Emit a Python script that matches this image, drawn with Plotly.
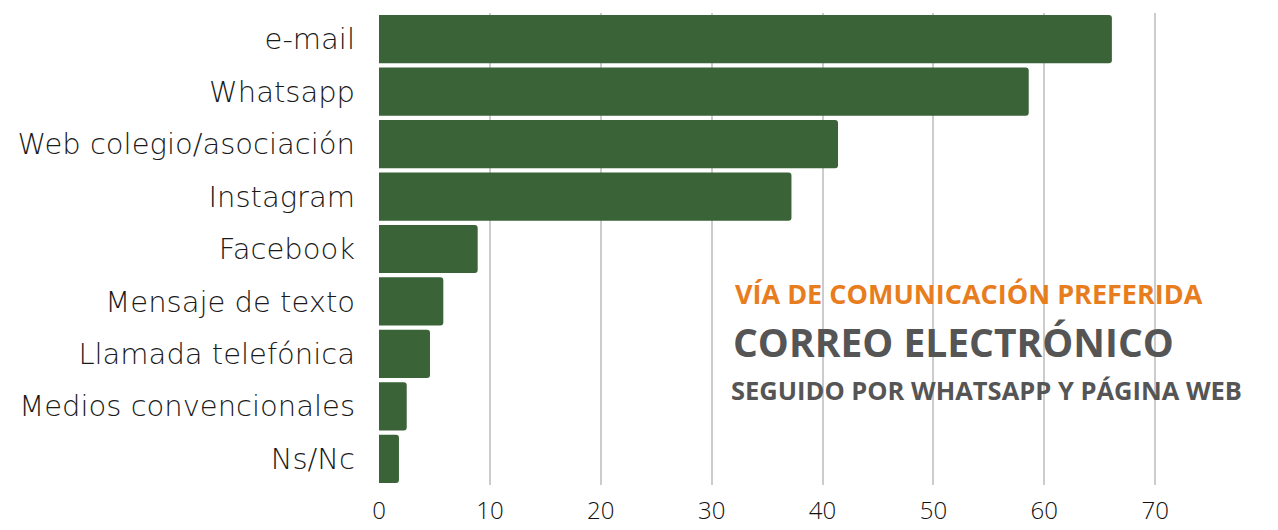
import plotly.graph_objects as go

categories = ["e-mail", "Whatsapp", "Web colegio/asociación", "Instagram", "Facebook",
              "Mensaje de texto", "Llamada telefónica", "Medios convencionales", "Ns/Nc"]
values = [66.1, 58.6, 41.4, 37.2, 8.9, 5.8, 4.6, 2.5, 1.8]
x_ticks = [0, 10, 20, 30, 40, 50, 60, 70]

BAR = "#3a6337"
FONT = "Open Sans, Noto Sans, sans-serif"
LABEL_FONT = "DejaVu Sans, sans-serif"

fig = go.Figure(go.Bar(
    x=values, y=categories, orientation="h",
    marker=dict(color=BAR, cornerradius=3, line=dict(width=0)),
    hoverinfo="x+y",
))

fig.update_layout(
    width=1270, height=522,
    margin=dict(l=371, r=12, t=5, b=45),
    paper_bgcolor="white", plot_bgcolor="white",
    bargap=0.08,
    showlegend=False,
    font=dict(family=FONT, color="#222222"),
    xaxis=dict(range=[0, 80], tickvals=x_ticks, showgrid=True, gridcolor="#cccccc",
               gridwidth=1.5, zeroline=False, showline=False, ticks="", automargin=False,
               tickfont=dict(size=24, color="#111111", family=FONT, weight=300),
               ticklabelstandoff=9),
    yaxis=dict(categoryorder="array", categoryarray=categories[::-1], showgrid=False,
               zeroline=False, showline=False, ticks="", automargin=False,
               tickfont=dict(size=29, color="#1a1a1a", family=LABEL_FONT, weight=300),
               ticklabelstandoff=23),
    annotations=[
        dict(text="<b>VÍA DE COMUNICACIÓN PREFERIDA</b>", xref="paper", yref="paper",
             x=0.399, y=0.4047, xanchor="left", yanchor="middle", showarrow=False,
             font=dict(size=27, color="#e87d1e", family=FONT)),
        dict(text="<b>CORREO ELECTRÓNICO</b>", xref="paper", yref="paper",
             x=0.397, y=0.303, xanchor="left", yanchor="middle", showarrow=False,
             font=dict(size=39, color="#555555", family=FONT)),
        dict(text="<b>SEGUIDO POR WHATSAPP Y PÁGINA WEB</b>", xref="paper", yref="paper",
             x=0.395, y=0.2013, xanchor="left", yanchor="middle", showarrow=False,
             font=dict(size=25.5, color="#555555", family=FONT)),
    ],
)

fig.write_html("out.html")
